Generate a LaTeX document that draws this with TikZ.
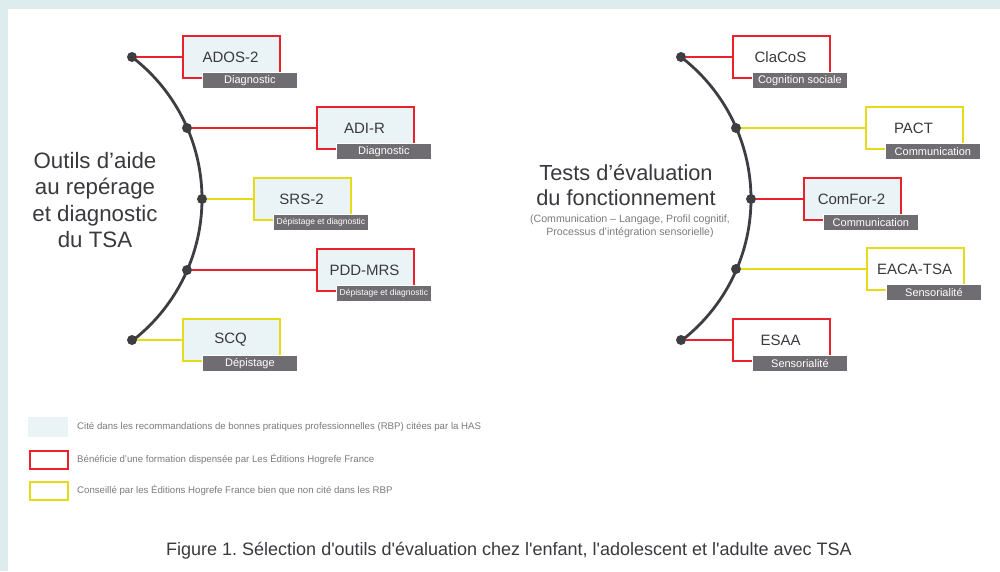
\documentclass[tikz,border=0pt]{standalone}
\usepackage{fontspec}
\setmainfont{Liberation Sans}
\newfontfamily\capfont{Liberation Sans}
\frenchspacing
\definecolor{band}{HTML}{DDEDED}
\definecolor{boxfill}{HTML}{EAF4F6}
\definecolor{tagfill}{HTML}{6F6D71}
\definecolor{hred}{HTML}{E8212B}
\definecolor{hyel}{HTML}{E5DC17}
\definecolor{spine}{HTML}{3E3D42}
\definecolor{txt}{HTML}{3A393D}
\definecolor{lgray}{HTML}{7B7B7E}
\tikzset{
  toolbox/.style={draw=#1, line width=2.4pt, minimum width=97pt, minimum height=42pt, inner sep=0pt, outer sep=0pt, anchor=north west},
  tag/.style={fill=tagfill, draw=white, line width=0.8pt, minimum width=95pt, minimum height=16pt, inner sep=0pt, anchor=north west, text=white, font=\fontsize{11}{12}\selectfont},
  tagsmall/.style={tag, font=\fontsize{8.5}{10}\selectfont},
  toolname/.style={text=txt, inner sep=0pt, font=\fontsize{15}{17}\selectfont},
  dot/.style={circle, fill=spine, minimum size=10pt, inner sep=0pt},
  link/.style={draw=#1, line width=2pt},
  spineline/.style={draw=spine, line width=2.8pt},
  title/.style={align=center, text=txt, font=\fontsize{22.3}{26.3}\selectfont},
  legtext/.style={anchor=west, text=lgray, inner sep=0pt, font=\fontsize{9.65}{11}\selectfont},
}
\newcommand\toolitem[8]{%
  \node[toolbox=#4, fill=#5] (#1) at (#3, #2-21) {};
  \node[toolname] (#1n) at (#3+47.5, #2) {#6};
  \node[#7] (#1t) at (#3+19, #2+15) {#8};
}
\begin{document}
\begin{tikzpicture}[x=1pt, y=-1pt]
\useasboundingbox (0,0) rectangle (1000,571);
\fill[white] (0,0) rectangle (1000,571);
\fill[band] (0,0) rectangle (1000,8.5);
\fill[band] (0,0) rectangle (8,571);

% ---------- left spine ----------
\draw[spineline] plot[domain=-52.5:52.5, samples=80] ({23+179*cos(\x)}, {199+179*sin(\x)});
\node[dot] (a1) at (132,57) {};
\node[dot] (a2) at (187,128) {};
\node[dot] (a3) at (202,199) {};
\node[dot] (a4) at (187,270) {};
\node[dot] (a5) at (132,340) {};

\toolitem{ados}{57}{183}{hred}{boxfill}{ADOS-2}{tag}{Diagnostic}
\toolitem{adir}{128}{317}{hred}{boxfill}{ADI-R}{tag}{Diagnostic}
\toolitem{srs}{199}{254}{hyel}{boxfill}{SRS-2}{tagsmall}{Dépistage et diagnostic}
\toolitem{pdd}{270}{317}{hred}{boxfill}{PDD-MRS}{tagsmall}{Dépistage et diagnostic}
\toolitem{scq}{340}{183}{hyel}{boxfill}{SCQ}{tag}{Dépistage}

\draw[link=hred] (a1) -- (ados.west);
\draw[link=hred] (a2) -- (adir.west);
\draw[link=hyel] (a3) -- (srs.west);
\draw[link=hred] (a4) -- (pdd.west);
\draw[link=hyel] (a5) -- (scq.west);

\node[title] (lt) at (95,200) {Outils d’aide\\au repérage\\et diagnostic\\du TSA};

% ---------- right spine ----------
\draw[spineline] plot[domain=-52.5:52.5, samples=80] ({572+179*cos(\x)}, {199+179*sin(\x)});
\node[dot] (b1) at (681,57) {};
\node[dot] (b2) at (736,128) {};
\node[dot] (b3) at (751,199) {};
\node[dot] (b4) at (736,269) {};
\node[dot] (b5) at (681,340) {};

\toolitem{clacos}{57}{733}{hred}{white}{ClaCoS}{tag}{Cognition sociale}
\toolitem{pact}{128}{866}{hyel}{white}{PACT}{tag}{Communication}
\toolitem{comfor}{199}{804}{hred}{boxfill}{ComFor-2}{tag}{Communication}
\toolitem{eaca}{269}{867}{hyel}{white}{EACA-TSA}{tag}{Sensorialité}
\toolitem{esaa}{340}{733}{hred}{white}{ESAA}{tag}{Sensorialité}

\draw[link=hred] (b1) -- (clacos.west);
\draw[link=hyel] (b2) -- (pact.west);
\draw[link=hred] (b3) -- (comfor.west);
\draw[link=hyel] (b4) -- (eaca.west);
\draw[link=hred] (b5) -- (esaa.west);

\node[title, font=\fontsize{21.8}{25}\selectfont] (rt) at (626,185) {Tests d’évaluation\\du fonctionnement};
\node[align=center, text=lgray, font=\fontsize{10.6}{13}\selectfont] (rs) at (630,226) {(Communication – Langage, Profil cognitif,\\Processus d’intégration sensorielle)};

% ---------- legend ----------
\node[fill=boxfill, minimum width=40pt, minimum height=20pt, inner sep=0pt, anchor=north west] (l1) at (28,417) {};
\node[draw=hred, line width=2.4pt, minimum width=38pt, minimum height=17.5pt, inner sep=0pt, anchor=north west] (l2) at (29,450) {};
\node[draw=hyel, line width=2.4pt, minimum width=38pt, minimum height=17.5pt, inner sep=0pt, anchor=north west] (l3) at (29,481) {};
\node[legtext] (l1t) at (77,427) {Cité dans les recommandations de bonnes pratiques professionnelles (RBP) citées par la HAS};
\node[legtext] (l2t) at (77,459) {Bénéficie d’une formation dispensée par Les Éditions Hogrefe France};
\node[legtext] (l3t) at (77,490) {Conseillé par les Éditions Hogrefe France bien que non cité dans les RBP};

% ---------- caption ----------
\node[text=txt, font=\capfont\fontsize{18}{20}\selectfont] (cap) at (509,551) {Figure 1. Sélection d'outils d'évaluation chez l'enfant, l'adolescent et l'adulte avec TSA};
\end{tikzpicture}
\end{document}
